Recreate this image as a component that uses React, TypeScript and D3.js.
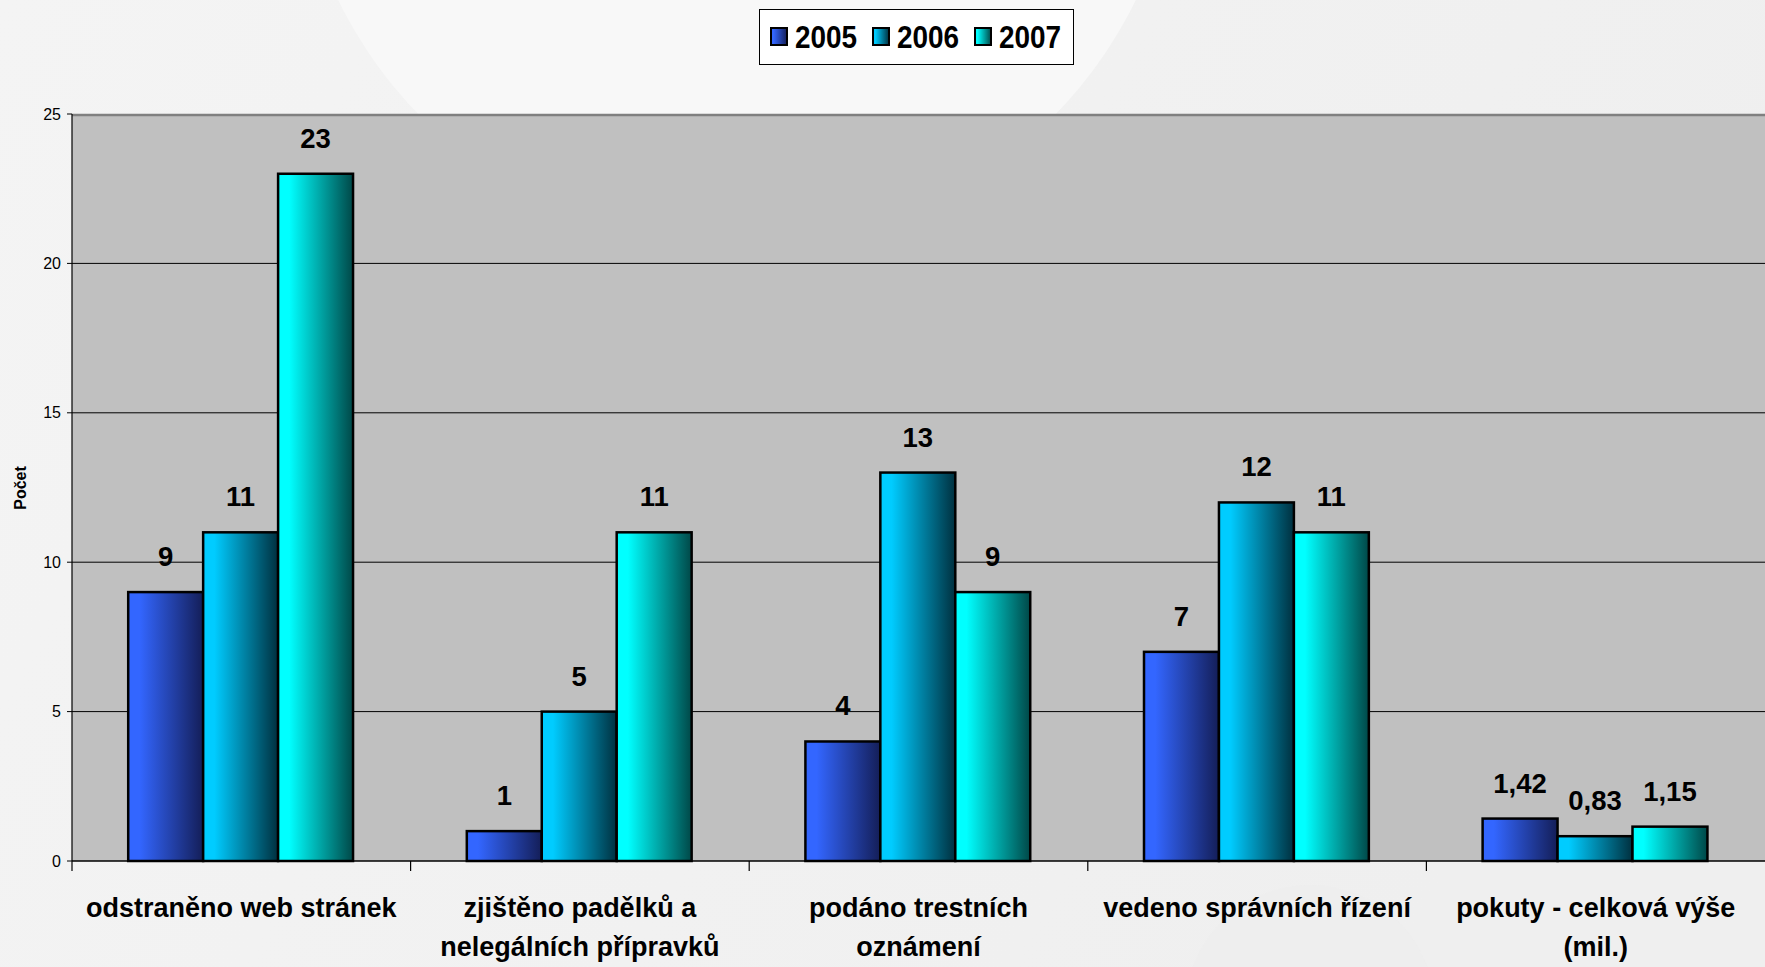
import React from "react";
import * as d3 from "d3";

const categories = [
  ["odstraněno web stránek"],
  ["zjištěno padělků a", "nelegálních přípravků"],
  ["podáno trestních", "oznámení"],
  ["vedeno správních řízení"],
  ["pokuty - celková výše", "(mil.)"],
];
const seriesNames = ["2005", "2006", "2007"];
const values2005 = [9, 1, 4, 7, 1.42];
const values2006 = [11, 5, 13, 12, 0.83];
const values2007 = [23, 11, 9, 11, 1.15];
const yTicks = [0, 5, 10, 15, 20, 25];
const yTitle = "Počet";

const W = 1765;
const H = 967;
const FONT = "'Liberation Sans', Arial, sans-serif";
const gradColors = [
  ["#3366ff", "#141e58"],
  ["#00ccff", "#00303f"],
  ["#00ffff", "#004848"],
];

export default function App() {
  const series = [values2005, values2006, values2007];
  const plotLeft = 72;
  const plotRight = 1765;
  const plotTop = 114;
  const plotBottom = 861;
  const x = d3
    .scaleBand<number>()
    .domain(categories.map((_, i) => i))
    .range([plotLeft, plotRight])
    .paddingInner(0)
    .paddingOuter(0);
  const bw = x.bandwidth();
  const inner = d3
    .scaleBand<number>()
    .domain(seriesNames.map((_, i) => i))
    .range([bw * 0.166, bw * 0.83])
    .padding(0);
  const y = d3.scaleLinear().domain([0, 25]).range([plotBottom, plotTop]);
  const fmt = (v: number) => (Number.isInteger(v) ? String(v) : v.toFixed(2).replace(".", ","));

  return (
    <svg
      width={W}
      height={H}
      style={{ position: "absolute", left: 0, top: 0, fontFamily: FONT }}
    >
      <defs>
        {gradColors.map((c, i) => (
          <linearGradient key={i} id={`g${i}`} x1="0" x2="1" y1="0" y2="0">
            <stop offset="0" stopColor={c[0]} />
            <stop offset="0.15" stopColor={c[0]} />
            <stop offset="1" stopColor={c[1]} />
          </linearGradient>
        ))}
        <linearGradient id="bg" x1="0" x2="1" y1="0" y2="0.3">
          <stop offset="0" stopColor="#f4f4f4" />
          <stop offset="1" stopColor="#efefef" />
        </linearGradient>
      </defs>
      <rect x={0} y={0} width={W} height={H} fill="url(#bg)" />
      <circle cx={737} cy={-195} r={444} fill="#f8f8f8" />
      <circle cx={1310} cy={1010} r={125} fill="#ececec" opacity={0.6} />

      {/* plot area */}
      <rect x={plotLeft} y={plotTop} width={plotRight - plotLeft} height={plotBottom - plotTop} fill="#c0c0c0" />
      {yTicks.slice(1, -1).map((t) => (
        <line key={t} x1={plotLeft} x2={plotRight} y1={y(t)} y2={y(t)} stroke="#000" strokeWidth={1} />
      ))}
      <line x1={plotLeft} x2={plotRight} y1={plotTop + 1} y2={plotTop + 1} stroke="#808080" strokeWidth={2.5} />

      {/* bars */}
      {series.map((vals, si) =>
        vals.map((v, ci) => {
          const bx = (x(ci) as number) + (inner(si) as number);
          const w = inner.bandwidth();
          return (
            <g key={`${si}-${ci}`}>
              <rect
                x={bx}
                y={y(v)}
                width={w}
                height={y(0) - y(v)}
                fill={`url(#g${si})`}
                stroke="#000"
                strokeWidth={2.5}
              />
              <text
                x={bx + w / 2}
                y={y(v) - 26}
                textAnchor="middle"
                fontWeight="bold"
                fontSize={27.5}
                fill="#000"
              >
                {fmt(v)}
              </text>
            </g>
          );
        })
      )}

      {/* axes */}
      <line x1={plotLeft} x2={plotLeft} y1={plotTop} y2={plotBottom + 10} stroke="#000" strokeWidth={1.2} />
      <line x1={plotLeft} x2={plotRight} y1={plotBottom} y2={plotBottom} stroke="#000" strokeWidth={1.5} />
      {yTicks.map((t) => (
        <g key={t}>
          <line x1={plotLeft - 5} x2={plotLeft} y1={y(t)} y2={y(t)} stroke="#000" strokeWidth={1} />
          <text x={61} y={y(t)} dy="0.35em" textAnchor="end" fontSize={16} fill="#000">
            {t}
          </text>
        </g>
      ))}
      {categories.map((_, ci) =>
        ci === 0 ? null : (
          <line
            key={ci}
            x1={x(ci) as number}
            x2={x(ci) as number}
            y1={plotBottom}
            y2={plotBottom + 10}
            stroke="#000"
            strokeWidth={1.2}
          />
        )
      )}
      {categories.map((lines, ci) => (
        <text
          key={ci}
          x={(x(ci) as number) + bw / 2}
          y={917}
          textAnchor="middle"
          fontWeight="bold"
          fontSize={27}
          fill="#000"
        >
          {lines.map((l, li) => (
            <tspan key={li} x={(x(ci) as number) + bw / 2} dy={li === 0 ? 0 : 39}>
              {l}
            </tspan>
          ))}
        </text>
      ))}
      <text
        transform={`translate(26,488) rotate(-90)`}
        textAnchor="middle"
        fontWeight="bold"
        fontSize={16}
        fill="#000"
      >
        {yTitle}
      </text>

      {/* legend */}
      <rect x={759.5} y={9.5} width={314} height={55} fill="#fff" stroke="#000" strokeWidth={1} />
      {seriesNames.map((s, i) => {
        const lx = [771, 873, 975][i];
        return (
          <g key={s}>
            <rect x={lx} y={28} width={16} height={17} fill={`url(#g${i})`} stroke="#000" strokeWidth={2} />
            <text
              transform={`translate(${lx + 24},47.5) scale(0.9,1)`}
              fontWeight="bold"
              fontSize={31}
              fill="#000"
            >
              {s}
            </text>
          </g>
        );
      })}
    </svg>
  );
}
